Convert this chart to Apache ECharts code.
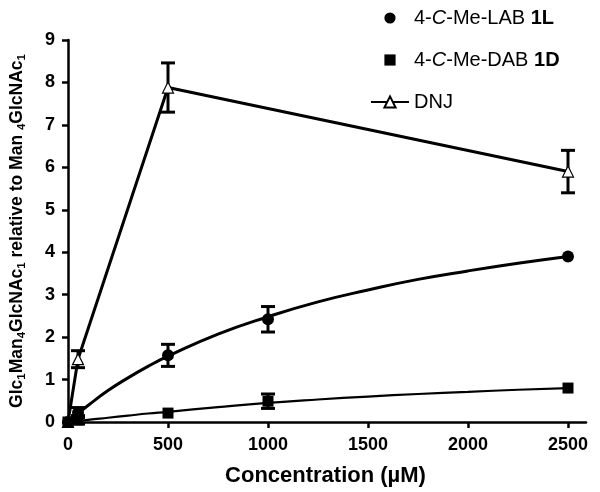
<!DOCTYPE html>
<html>
<head>
<meta charset="utf-8">
<script src="https://cdn.jsdelivr.net/npm/echarts@6/dist/echarts.min.js"></script>
<style>html,body{margin:0;padding:0;background:#fff}#c{width:600px;height:492px}</style>
</head>
<body>
<div id="c"></div>
<script>
// ---- data ----
const xTicks = [0, 500, 1000, 1500, 2000, 2500];
const yTicks = [0, 1, 2, 3, 4, 5, 6, 7, 8, 9];

const labX = [0, 50, 500, 1000, 2500];
const labMean = [0, 0.22, 1.57, 2.42, 3.90];
const labErr = [0, 0.12, 0.26, 0.30, 0];

const dabX = [0, 50, 500, 1000, 2500];
const dabMean = [0, 0.05, 0.21, 0.49, 0.80];
const dabErr = [0, 0.10, 0, 0.17, 0];

const dnjX = [0, 50, 500, 2500];
const dnjMean = [0, 1.48, 7.88, 5.90];
const dnjErr = [0, 0.20, 0.58, 0.50];

// fitted curves as traced on the picture
const fitX = [0, 50, 100, 200, 300, 400, 500, 750, 1000, 1250, 1500, 1750, 2000, 2250, 2500];
const labFit = [0, 0.20, 0.39, 0.74, 1.04, 1.31, 1.55, 2.07, 2.48, 2.83, 3.11, 3.36, 3.56, 3.74, 3.90];
const dabFit = [0, 0.02, 0.05, 0.10, 0.15, 0.20, 0.24, 0.35, 0.45, 0.53, 0.60, 0.66, 0.71, 0.76, 0.80];

const FONT = 'Liberation Sans, Arial, Helvetica, sans-serif';

function zip(xs, ys) { return xs.map((x, i) => [x, ys[i]]); }
function zip3(xs, ys, es) { return xs.map((x, i) => [x, ys[i], es[i]]); }

function errorBars(name, data, cap) {
  return {
    type: 'custom',
    name: name + '_err',
    z: 1,
    silent: true,
    clip: false,
    data: data.filter(d => d[2] > 0),
    renderItem: function (params, api) {
      const x = api.value(0), y = api.value(1), e = api.value(2);
      const top = api.coord([x, y + e]);
      const bot = api.coord([x, y - e]);
      const st = { stroke: '#000', lineWidth: 3 };
      return {
        type: 'group',
        children: [
          { type: 'line', shape: { x1: top[0], y1: top[1], x2: bot[0], y2: bot[1] }, style: st },
          { type: 'line', shape: { x1: top[0] - cap, y1: top[1], x2: top[0] + cap, y2: top[1] }, style: st },
          { type: 'line', shape: { x1: bot[0] - cap, y1: bot[1], x2: bot[0] + cap, y2: bot[1] }, style: st }
        ]
      };
    }
  };
}

const legendLabels = {
  'LAB': '{n|4-}{i|C}{n|-Me-LAB }{b|1L}',
  'DAB': '{n|4-}{i|C}{n|-Me-DAB }{b|1D}',
  'DNJ': '{n|DNJ}'
};

const chart = echarts.init(document.getElementById('c'), null, { renderer: 'canvas' });
chart.setOption({
  animation: false,
  backgroundColor: '#fff',
  textStyle: { fontFamily: FONT, color: '#000' },
  grid: { left: 62.5, right: 14, top: 40, bottom: 67, containLabel: false },
  legend: {
    orient: 'vertical',
    left: 365,
    top: 3,
    itemGap: 22,
    itemWidth: 38,
    itemHeight: 14,
    data: ['LAB', 'DAB', 'DNJ'],
    formatter: n => legendLabels[n],
    textStyle: {
      fontFamily: FONT, fontSize: 20, color: '#000',
      rich: {
        n: { fontFamily: FONT, fontSize: 20, color: '#000' },
        i: { fontFamily: FONT, fontSize: 20, color: '#000', fontStyle: 'italic' },
        b: { fontFamily: FONT, fontSize: 20, color: '#000', fontWeight: 'bold' }
      }
    }
  },
  xAxis: {
    type: 'value',
    min: -15,
    max: 2590,
    name: 'Concentration (\u00b5M)',
    nameLocation: 'middle',
    nameGap: 43,
    nameTextStyle: { fontFamily: FONT, fontSize: 22, fontWeight: 'bold', color: '#000' },
    axisLine: { show: true, onZero: false, lineStyle: { color: '#000', width: 2.5 } },
    axisTick: { show: true, customValues: xTicks, length: 6, lineStyle: { color: '#000', width: 2.5 } },
    axisLabel: { customValues: xTicks, margin: 14, fontFamily: FONT, fontSize: 18, fontWeight: 'bold', color: '#000',
      formatter: v => String(v) },
    splitLine: { show: false }
  },
  yAxis: {
    type: 'value',
    min: 0,
    max: 9,
    interval: 1,
    name: '{n|Glc}{s|1}{n|Man}{s|4}{n|GlcNAc}{s|1}{n| relative to Man }{s|4}{n|GlcNAc}{s|1}',
    nameLocation: 'middle',
    nameRotate: 90,
    nameGap: 37,
    nameTextStyle: {
      fontFamily: FONT, fontSize: 17.5, fontWeight: 'bold', color: '#000',
      rich: {
        n: { fontFamily: FONT, fontSize: 17.5, fontWeight: 'bold', color: '#000', lineHeight: 22 },
        s: { fontFamily: FONT, fontSize: 11.5, fontWeight: 'bold', color: '#000', lineHeight: 11, verticalAlign: 'bottom' }
      }
    },
    axisLine: { show: true, lineStyle: { color: '#000', width: 2.5 } },
    axisTick: { show: true, length: 6, lineStyle: { color: '#000', width: 2.5 } },
    axisLabel: { margin: 10, fontFamily: FONT, fontSize: 18, fontWeight: 'bold', color: '#000',
      formatter: v => String(v) },
    splitLine: { show: false }
  },
  series: [
    errorBars('LAB', zip3(labX, labMean, labErr), 7),
    errorBars('DAB', zip3(dabX, dabMean, dabErr), 7),
    errorBars('DNJ', zip3(dnjX, dnjMean, dnjErr), 7),
    {
      name: 'LABfit', type: 'line', data: zip(fitX, labFit), smooth: true,
      showSymbol: false, symbol: 'none', z: 2, silent: true,
      lineStyle: { color: '#000', width: 3 }
    },
    {
      name: 'DABfit', type: 'line', data: zip(fitX, dabFit), smooth: true,
      showSymbol: false, symbol: 'none', z: 2, silent: true,
      lineStyle: { color: '#000', width: 2.2 }
    },
    {
      name: 'DNJ', type: 'line', data: zip(dnjX, dnjMean), z: 3,
      symbol: 'triangle', symbolSize: 11, showSymbol: true,
      lineStyle: { color: '#000', width: 3 },
      itemStyle: { color: '#fff', borderColor: '#000', borderWidth: 1.2 }
    },
    {
      name: 'LAB', type: 'line', data: zip(labX, labMean), z: 4,
      symbol: 'circle', symbolSize: 12, showSymbol: true,
      lineStyle: { opacity: 0, width: 1 },
      itemStyle: { color: '#000' }
    },
    {
      name: 'DAB', type: 'line', data: zip(dabX, dabMean), z: 4,
      symbol: 'rect', symbolSize: 11, showSymbol: true,
      lineStyle: { opacity: 0, width: 1 },
      itemStyle: { color: '#000' }
    }
  ]
});
</script>
</body>
</html>
